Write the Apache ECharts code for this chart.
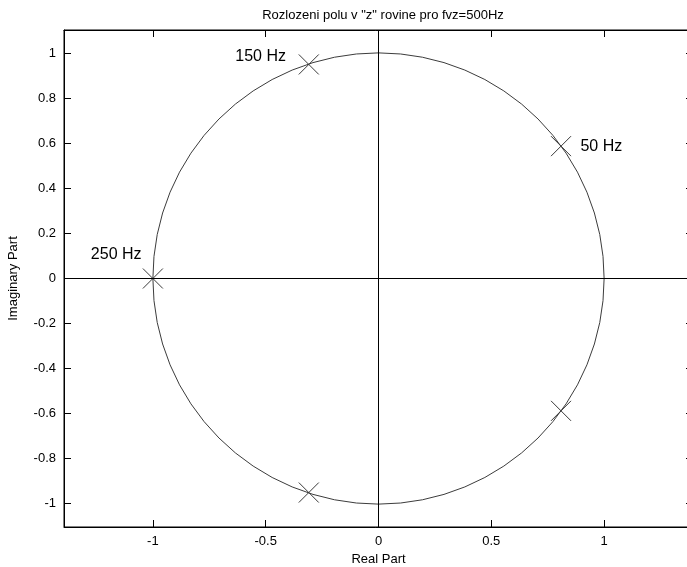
<!DOCTYPE html>
<html>
<head>
<meta charset="utf-8">
<script src="https://cdn.jsdelivr.net/npm/echarts@6/dist/echarts.min.js"></script>
<style>
  html, body { margin: 0; padding: 0; background: #fff; }
  #chart { width: 687px; height: 567px; }
</style>
</head>
<body>
<div id="chart"></div>
<script>
// Pole–zero plot of the filter poles on the z-plane (fs = 500 Hz)
const chartTitle = 'Rozlozeni polu v "z" rovine pro fvz=500Hz';
const xName = 'Real Part';
const yName = 'Imaginary Part';

// axis ranges and tick positions
const xRange = [-1.394, 1.394];
const yRange = [-1.104, 1.104];
const xTicks = [-1, -0.5, 0, 0.5, 1];
const yTicks = [-1, -0.8, -0.6, -0.4, -0.2, 0, 0.2, 0.4, 0.6, 0.8, 1];

// poles (real, imaginary)
const poleRe = [0.809, 0.809, -0.309, -0.309, -1];
const poleIm = [0.588, -0.588, 0.951, -0.951, 0];

// frequency annotations (text, real, imaginary of anchor)
const noteText = ['150 Hz', '50 Hz', '250 Hz'];
const noteRe = [-0.635, 0.895, -1.275];
const noteIm = [0.985, 0.585, 0.105];

// unit circle: centre and radius
const unitCircle = [[0, 0, 1]];

const FONT = '"Liberation Sans", Arial, sans-serif';

const chart = echarts.init(document.getElementById('chart'));

const tickCommon = {
  show: true, inside: true, length: 7,
  lineStyle: { color: '#000', width: 1 }
};

chart.setOption({
  animation: false,
  backgroundColor: '#fff',
  title: {
    text: chartTitle,
    left: 378, top: 4,
    textAlign: 'center',
    textStyle: { fontFamily: FONT, fontSize: 13, fontWeight: 'normal', color: '#000' }
  },
  grid: {
    left: 64, top: 30, width: 629, height: 497,
    outerBoundsMode: 'none', containLabel: false,
    show: true, borderColor: '#000', borderWidth: 1, backgroundColor: '#fff'
  },
  xAxis: [
    {
      type: 'value', position: 'bottom', min: xRange[0], max: xRange[1],
      name: xName, nameLocation: 'middle', nameGap: 24,
      nameTextStyle: { fontFamily: FONT, fontSize: 13, color: '#000' },
      axisLine: { show: true, onZero: false, lineStyle: { color: '#000', width: 1 } },
      axisTick: Object.assign({ customValues: xTicks }, tickCommon),
      axisLabel: { customValues: xTicks, margin: 8, fontFamily: FONT, fontSize: 13, color: '#000' },
      splitLine: { show: false }
    },
    {
      type: 'value', position: 'top', min: xRange[0], max: xRange[1],
      axisLine: { show: true, onZero: false, lineStyle: { color: '#000', width: 1 } },
      axisTick: Object.assign({ customValues: xTicks }, tickCommon),
      axisLabel: { show: false },
      splitLine: { show: false }
    }
  ],
  yAxis: [
    {
      type: 'value', position: 'left', min: yRange[0], max: yRange[1],
      name: yName, nameLocation: 'middle', nameGap: 44,
      nameTextStyle: { fontFamily: FONT, fontSize: 13, color: '#000' },
      axisLine: { show: true, onZero: false, lineStyle: { color: '#000', width: 1 } },
      axisTick: Object.assign({ customValues: yTicks }, tickCommon),
      axisLabel: { customValues: yTicks, margin: 8, fontFamily: FONT, fontSize: 13, color: '#000' },
      splitLine: { show: false }
    },
    {
      type: 'value', position: 'right', min: yRange[0], max: yRange[1],
      axisLine: { show: true, onZero: false, lineStyle: { color: '#000', width: 1 } },
      axisTick: Object.assign({ customValues: yTicks }, tickCommon),
      axisLabel: { show: false },
      splitLine: { show: false }
    }
  ],
  series: [
    {
      // unit circle, plus the real and imaginary axes through the origin
      type: 'custom',
      data: unitCircle,
      renderItem: function (params, api) {
        const c = api.coord([api.value(0), api.value(1)]);
        const r = api.size([api.value(2), 0])[0];
        return {
          type: 'circle',
          shape: { cx: c[0], cy: c[1], r: r },
          style: { fill: 'none', stroke: '#3c3c3c', lineWidth: 1 }
        };
      },
      markLine: {
        silent: true, symbol: 'none',
        label: { show: false },
        lineStyle: { color: '#000', width: 1, type: 'solid' },
        data: [{ xAxis: 0 }, { yAxis: 0 }]
      },
      z: 2
    },
    {
      // pole markers
      type: 'custom',
      data: poleRe.map((re, i) => [re, poleIm[i]]),
      renderItem: function (params, api) {
        const p = api.coord([api.value(0), api.value(1)]);
        const h = 10;
        const st = { stroke: '#3a3a3a', lineWidth: 1 };
        return {
          type: 'group',
          children: [
            { type: 'line', shape: { x1: p[0] - h, y1: p[1] - h, x2: p[0] + h, y2: p[1] + h }, style: st },
            { type: 'line', shape: { x1: p[0] - h, y1: p[1] + h, x2: p[0] + h, y2: p[1] - h }, style: st }
          ]
        };
      },
      z: 3
    },
    {
      // frequency annotations
      type: 'custom',
      data: noteText.map((t, i) => [noteRe[i], noteIm[i], t]),
      renderItem: function (params, api) {
        const p = api.coord([api.value(0), api.value(1)]);
        return {
          type: 'text',
          x: p[0], y: p[1],
          style: {
            text: noteText[params.dataIndex],
            fill: '#000',
            font: '16px ' + FONT,
            align: 'left', verticalAlign: 'middle'
          }
        };
      },
      z: 4
    }
  ]
});
</script>
</body>
</html>
